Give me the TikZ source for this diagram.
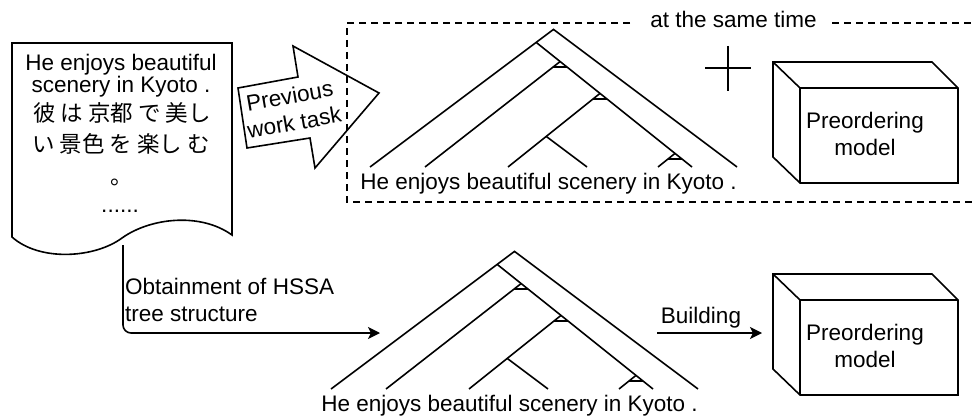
\documentclass[tikz,border=0pt]{standalone}
\usepackage{fontspec}
\setmainfont{Liberation Sans}
\newfontfamily\jpfont{Noto Sans CJK JP}
\usetikzlibrary{arrows.meta,calc}
\tikzset{
  ln/.style={line width=1.6pt},
  lbl/.style={font=\fontsize{22.5}{27}\selectfont, inner sep=0pt},
  jlbl/.style={font=\jpfont\fontsize{22.5}{27}\selectfont, inner sep=0pt},
  arr/.style={-{Stealth[length=12pt,width=12pt,inset=3pt]}},
  dsh/.style={line width=1.4pt, dash pattern=on 7pt off 5pt},
  hssatree/.pic={
    \coordinate (-A) at (553.5,29.4);
    \coordinate (-B) at (536.2,42.4);
    \coordinate (-J1) at (560.2,61.5);
    \coordinate (-J2) at (600,93.4);
    \coordinate (-E) at (546.2,136.4);
    \coordinate (-J3) at (675,153.4);
    \draw[ln] (370,167) -- (-A) -- (737,167);
    \draw[ln] (-B) -- (692,167);
    \draw[ln] (-J1) -- (425,167);
    \draw[ln] (-J2) -- (508,167);
    \draw[ln] (-E) -- (587,167);
    \draw[ln] (-J3) -- (658,167);
    \draw[ln] (553.2,67) -- (567.1,67);
    \draw[ln] (593.1,98.9) -- (606.9,98.9);
    \draw[ln] (668.1,158.9) -- (681.9,158.9);
    \node[lbl, anchor=base] (-txt) at (548.5,189) {He enjoys beautiful scenery in Kyoto .};
  },
  cubeshape/.pic={
    \draw[ln,fill=white] (773,62) -- (932,62) -- (958,88) -- (958,183) -- (800,183) -- (773,157) -- cycle;
    \draw[ln] (773,62) -- (800,88) -- (958,88);
    \draw[ln] (800,88) -- (800,183);
    \node[lbl, align=center] (-txt) at (865,134.3) {Preordering\\model};
  }
}
\begin{document}
\begin{tikzpicture}[x=1pt,y=-1pt]
\useasboundingbox (0,0) rectangle (974,417);

% document shape
\draw[ln,fill=white] (12,43) -- (232,43) -- (232,235)
  .. controls (200,212) and (150,218) .. (122,238)
  .. controls (95,258) and (40,262) .. (12,237) -- cycle;
\coordinate (docout) at (123,245);
\node[lbl, anchor=base] (d1) at (121,70.7) {He enjoys beautiful};
\node[lbl, anchor=base] (d2) at (121,93) {scenery in Kyoto .};
\node[jlbl, anchor=base] (d3) at (122,121.5) {彼 は 京都 で 美し};
\node[jlbl, anchor=base] (d4) at (121,153) {い 景色 を 楽し む};
\node[jlbl, anchor=base] (d5) at (122,184) {。};
\node[lbl, anchor=base] (d6) at (120,212) {......};

% previous work task arrow
\draw[ln,fill=white] (238,88) -- (298,77) -- (293,46) -- (379,93) -- (315,168) -- (310,138) -- (247,148) -- cycle;
\node[lbl, align=center, rotate=10] (prev) at (292,109) {Previous\\work task};

% dashed frame
\node[lbl, anchor=base] (same) at (733.5,28) {at the same time};
\draw[dsh] (630,23) -- (347,23) -- (347,202) -- (974,202);
\draw[dsh] (832,23) -- (974,23);

% top row
\pic (t1) at (0,0) {hssatree};
\draw[ln] (705,68) -- (751,68) (728,46) -- (728,91);
\pic (c1) at (0,0) {cubeshape};

% bottom row
\coordinate (treein) at (380,333);
\draw[ln,arr,rounded corners=8pt] (docout) |- (treein);
\node[lbl, align=left, anchor=north west] (obt) at (125,278) {Obtainment of HSSA\\tree structure};
\pic (t2) at (-39,222) {hssatree};
\coordinate (bstart) at (657,333);
\coordinate (bend) at (762,333);
\draw[ln,arr] (bstart) -- (bend);
\node[lbl, anchor=base] (bld) at (701,323) {Building};
\pic (c2) at (0,212) {cubeshape};
\end{tikzpicture}
\end{document}
